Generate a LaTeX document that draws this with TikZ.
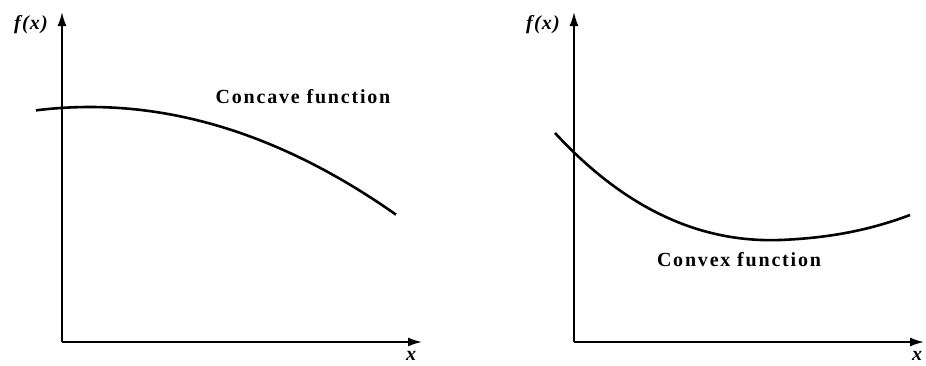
\documentclass[tikz,border=0pt]{standalone}
\usepackage{fontspec}
\setmainfont{Liberation Serif}
\usetikzlibrary{arrows.meta}
\begin{document}
\begin{tikzpicture}[x=1pt,y=-1pt,
  axis/.style={line width=1.7pt,-{Latex[length=14pt,width=9pt]}},
  curve/.style={line width=2.6pt},
  lbl/.style={font=\fontsize{20}{24}\selectfont\bfseries\addfontfeatures{LetterSpace=9}},
  axlbl/.style={font=\fontsize{20}{24}\selectfont\bfseries\itshape\addfontfeatures{LetterSpace=6}}]
\useasboundingbox (0,0) rectangle (926,365);
% left
\coordinate (o1) at (62,342);
\coordinate (y1) at (62,12);
\coordinate (x1) at (422,342);
\draw[axis] (o1) -- (y1);
\draw[axis] (o1) -- (x1);
\node[axlbl] (fx1) at (31,25) {f(x)};
\node[axlbl] (xl1) at (411,356) {x};
\draw[curve] plot[domain=36:396,samples=80,smooth] (\x,{107+(0.03391*(\x-90))^2});
\node[lbl] (t1) at (303,97) {Concave function};
% right
\coordinate (o2) at (574,342);
\coordinate (y2) at (574,12);
\coordinate (x2) at (924,342);
\draw[axis] (o2) -- (y2);
\draw[axis] (o2) -- (x2);
\node[axlbl] (fx2) at (543,25) {f(x)};
\node[axlbl] (xl2) at (917,356) {x};
\draw[curve] (555,133) .. controls (640,225) and (720,242) .. (780,240) .. controls (830,238) and (870,230) .. (910,215);
\node[lbl] (t2) at (739,260) {Convex function};
\end{tikzpicture}
\end{document}
